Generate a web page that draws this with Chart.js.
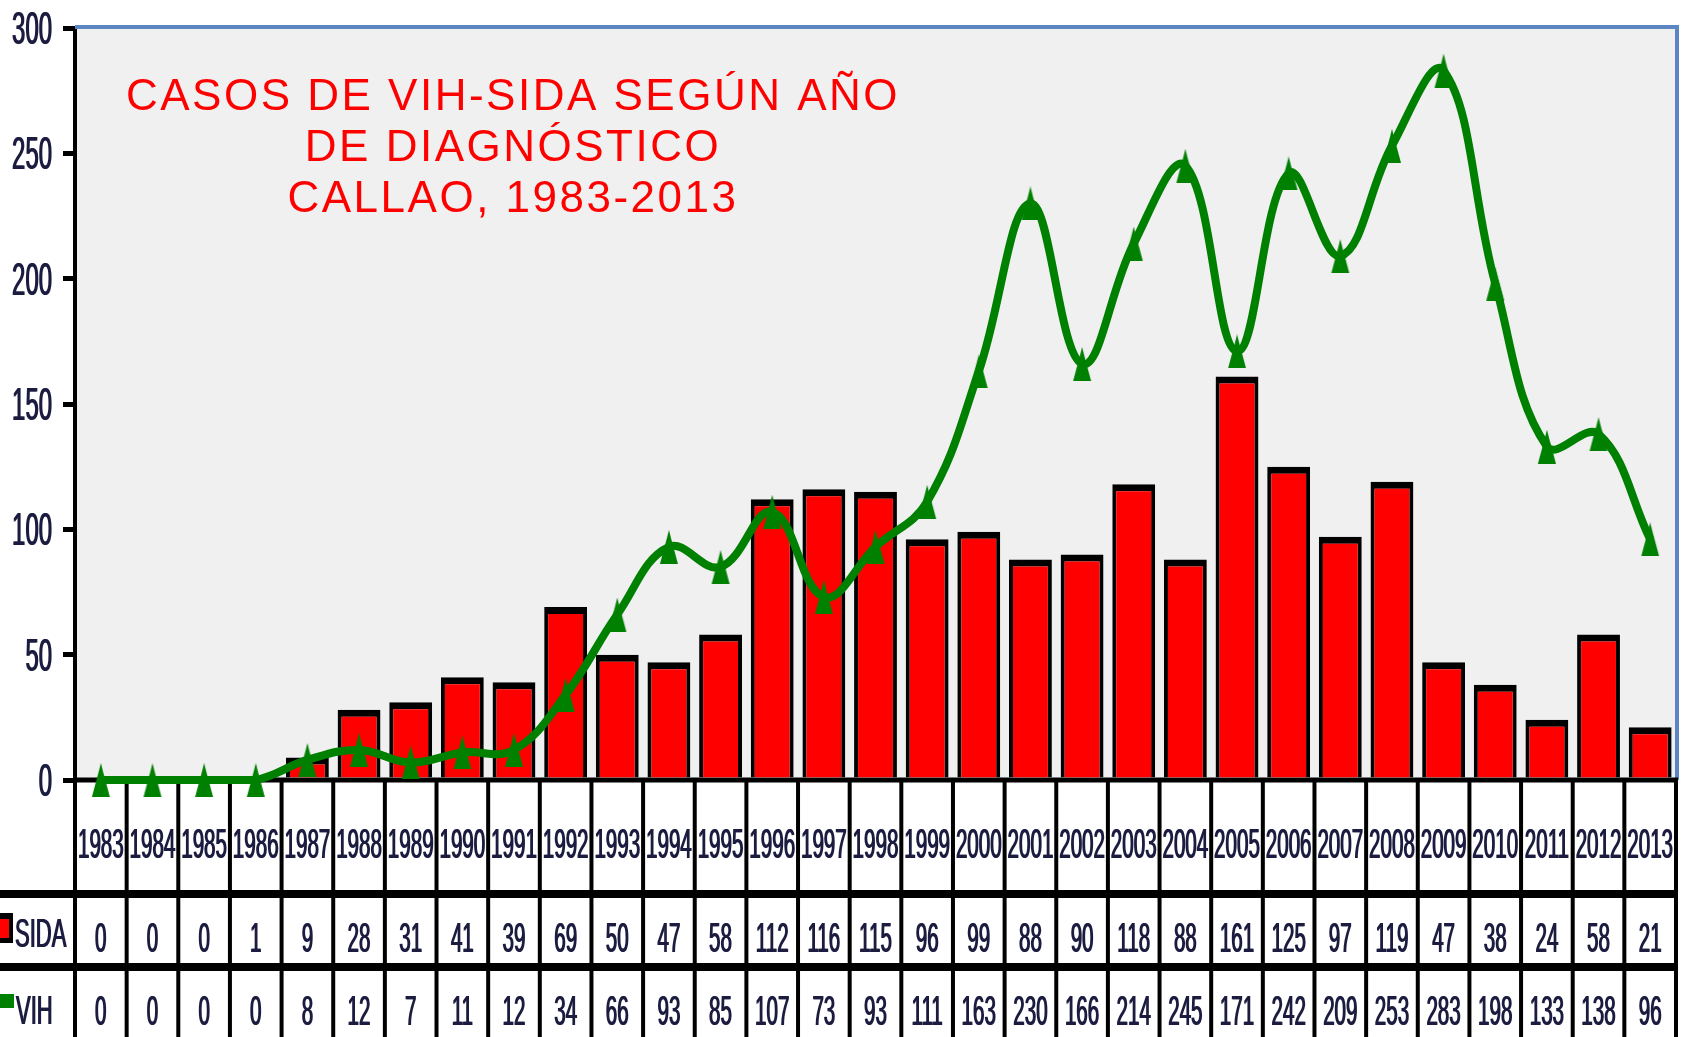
<!DOCTYPE html>
<html><head><meta charset="utf-8">
<script src="https://cdn.jsdelivr.net/npm/chart.js@4.4.1/dist/chart.umd.min.js"></script>
<style>html,body{margin:0;padding:0;background:#fff;overflow:hidden}</style>
</head><body>
<canvas id="c" width="1686" height="1037"></canvas>
<script>
const years = ['1983','1984','1985','1986','1987','1988','1989','1990','1991','1992','1993','1994','1995','1996','1997','1998','1999','2000','2001','2002','2003','2004','2005','2006','2007','2008','2009','2010','2011','2012','2013'];
const sida = [0,0,0,1,9,28,31,41,39,69,50,47,58,112,116,115,96,99,88,90,118,88,161,125,97,119,47,38,24,58,21];
const vih = [0,0,0,0,8,12,7,11,12,34,66,93,85,107,73,93,111,163,230,166,214,245,171,242,209,253,283,198,133,138,96];
const yTicks = [0,50,100,150,200,250,300];
const titleLines = ['CASOS DE VIH-SIDA SEGÚN AÑO','DE DIAGNÓSTICO','CALLAO, 1983-2013'];
const seriesNames = ['SIDA','VIH'];

const TXT = '#1c1c40';
function squash(ctx, text, x, y, sx, align, size) {
  ctx.save();
  ctx.font = size + 'px "Liberation Sans", Arial, sans-serif';
  ctx.fillStyle = TXT;
  ctx.textBaseline = 'alphabetic';
  ctx.textAlign = align;
  for (const dx of [-0.5, 0.5]) {
    ctx.save();
    ctx.translate(x + dx, y);
    ctx.scale(sx, 1);
    ctx.fillText(text, 0, 0);
    ctx.restore();
  }
  ctx.restore();
}

// tall narrow triangle marker
const marker = document.createElement('canvas');
marker.width = 20; marker.height = 34;
(function () {
  const m = marker.getContext('2d');
  m.fillStyle = '#008000';
  m.beginPath();
  m.moveTo(10, 0);
  m.lineTo(12, 8);
  m.lineTo(19, 34);
  m.lineTo(1, 34);
  m.lineTo(8, 8);
  m.closePath();
  m.fill();
})();

const tablePlugin = {
  id: 'table',
  beforeDraw(chart) {
    const {ctx, chartArea: a} = chart;
    ctx.save();
    ctx.fillStyle = '#f0f0f0';
    ctx.fillRect(a.left, a.top, a.right - a.left, a.bottom - a.top);
    ctx.restore();
  },
  beforeDatasetsDraw(chart) {
    const {ctx, chartArea: a} = chart;
    const xs = chart.scales.x, ys = chart.scales.y;
    const n = years.length;
    const w = (xs.right - xs.left) / n;
    const H = chart.height;
    ctx.save();
    // blue frame top/right
    ctx.strokeStyle = '#5b86c2';
    ctx.lineWidth = 4;
    ctx.beginPath();
    ctx.moveTo(a.left, a.top - 1);
    ctx.lineTo(a.right + 1, a.top - 1);
    ctx.lineTo(a.right + 1, a.bottom);
    ctx.stroke();
    // table vertical lines
    ctx.strokeStyle = '#000';
    ctx.lineWidth = 4;
    for (let i = 0; i <= n; i++) {
      const x = xs.getPixelForValue(0) - w / 2 + i * w;
      ctx.beginPath();
      ctx.moveTo(x, a.bottom);
      ctx.lineTo(x, H);
      ctx.stroke();
    }
    // horizontal row lines
    ctx.lineWidth = 8;
    [894, 967].forEach(y => {
      ctx.beginPath();
      ctx.moveTo(0, y);
      ctx.lineTo(xs.right + 2, y);
      ctx.stroke();
    });
    // zero axis line
    ctx.lineWidth = 5;
    ctx.beginPath();
    ctx.moveTo(a.left - 2, a.bottom);
    ctx.lineTo(a.right + 2, a.bottom);
    ctx.stroke();
    ctx.restore();

    // y tick labels
    ys.ticks.forEach(t => {
      const y = ys.getPixelForValue(t.value);
      squash(ctx, String(t.value), 52, y + 16, 0.52, 'right', 46);
    });
    // table text
    for (let i = 0; i < n; i++) {
      const cx = xs.getPixelForValue(i);
      squash(ctx, years[i], cx, 858, 0.49, 'center', 42);
      squash(ctx, String(sida[i]), cx, 952, 0.49, 'center', 42);
      squash(ctx, String(vih[i]), cx, 1025, 0.49, 'center', 42);
    }
    // legend keys
    ctx.save();
    ctx.fillStyle = '#000';
    ctx.fillRect(0, 913, 13, 30);
    ctx.fillStyle = '#ff0000';
    ctx.fillRect(0, 919, 9, 19);
    ctx.fillStyle = '#008000';
    ctx.fillRect(0, 994, 14, 14);
    ctx.restore();
    squash(ctx, seriesNames[0], 15, 947, 0.55, 'left', 40);
    squash(ctx, seriesNames[1], 16, 1024, 0.55, 'left', 40);

    // title
    ctx.save();
    ctx.font = '44px "Liberation Sans", Arial, sans-serif';
    ctx.fillStyle = '#ff0000';
    ctx.textAlign = 'center';
    ctx.textBaseline = 'alphabetic';
    try { ctx.letterSpacing = '2.5px'; } catch (e) {}
    titleLines.forEach((s, i) => ctx.fillText(s, 513, 110 + i * 51));
    ctx.restore();
  }
};

new Chart(document.getElementById('c'), {
  type: 'bar',
  data: {
    labels: years,
    datasets: [
      {
        type: 'line', label: seriesNames[1], data: vih,
        borderColor: '#008000', backgroundColor: '#008000',
        borderWidth: 8, tension: 0.4,
        pointStyle: marker, pointRadius: 10, pointBorderWidth: 0,
        pointBackgroundColor: '#008000', clip: false, order: 0
      },
      {
        type: 'bar', label: seriesNames[0], data: sida,
        backgroundColor: '#ff0000', borderColor: '#000',
        borderWidth: {top: 7, left: 4, right: 4, bottom: 0},
        barPercentage: 0.83, categoryPercentage: 1, order: 1
      }
    ]
  },
  options: {
    responsive: false, animation: false, devicePixelRatio: 1,
    layout: {padding: {top: 28, right: 8, left: 0, bottom: 0}},
    plugins: {legend: {display: false}, tooltip: {enabled: false}, title: {display: false}},
    scales: {
      x: {
        ticks: {display: false}, grid: {display: false}, border: {display: false},
        afterFit(s) { s.height = 257; }
      },
      y: {
        min: 0, max: 300,
        afterBuildTicks(s) { s.ticks = yTicks.map(v => ({value: v})); },
        ticks: {display: false},
        grid: {drawOnChartArea: false, color: '#000', lineWidth: 5, tickLength: 12},
        border: {display: true, color: '#000', width: 4},
        afterFit(s) { s.width = 75; }
      }
    }
  },
  plugins: [tablePlugin]
});
</script>
</body></html>
